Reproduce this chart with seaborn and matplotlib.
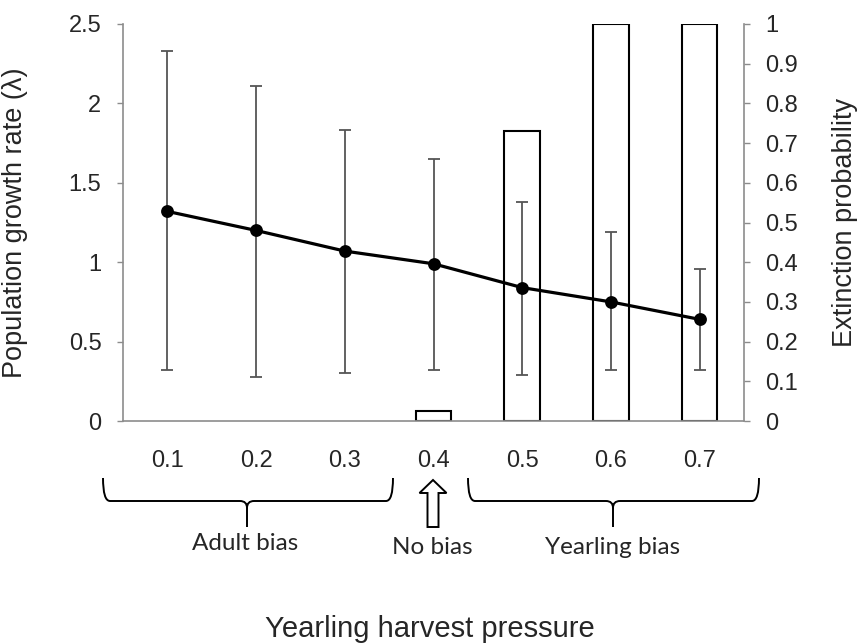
import matplotlib
matplotlib.use("Agg")
import matplotlib.pyplot as plt
import seaborn as sns
import numpy as np
import pandas as pd
from matplotlib.path import Path
from matplotlib.patches import PathPatch, Polygon

# ---------------- data ----------------
categories = ["0.1", "0.2", "0.3", "0.4", "0.5", "0.6", "0.7"]
growth_rate = [1.32, 1.20, 1.07, 0.99, 0.84, 0.75, 0.64]
growth_upper = [2.33, 2.11, 1.83, 1.65, 1.38, 1.19, 0.955]
growth_lower = [0.32, 0.28, 0.30, 0.32, 0.29, 0.32, 0.32]
extinction = [0.0, 0.0, 0.0, 0.026, 0.73, 1.0, 1.0]

left_ticks = [0, 0.5, 1, 1.5, 2, 2.5]
left_labels = ["0", "0.5", "1", "1.5", "2", "2.5"]
right_ticks = [0, 0.1, 0.2, 0.3, 0.4, 0.5, 0.6, 0.7, 0.8, 0.9, 1.0]
right_labels = ["0", "0.1", "0.2", "0.3", "0.4", "0.5", "0.6", "0.7", "0.8", "0.9", "1"]
group_labels = ["Adult bias", "No bias", "Yearling bias"]
left_label = "Population growth rate (λ)"
right_label = "Extinction probability"
x_label = "Yearling harvest pressure"

# ---------------- style ----------------
sns.set_style("white")
plt.rcParams["font.family"] = ["Liberation Sans", "DejaVu Sans"]

W, H = 858, 643
fig = plt.figure(figsize=(W / 100, H / 100), dpi=100)

def px(x, y):
    return (x / W, 1 - y / H)

x0, x1, ytop, ybot = 123, 744, 24, 421
ax = fig.add_axes([x0 / W, (H - ybot) / H, (x1 - x0) / W, (ybot - ytop) / H])
ax2 = ax.twinx()

grey = "#8c8c8c"

df = pd.DataFrame({"cat": categories, "lam": growth_rate, "ext": extinction})

# bars (right axis)
sns.barplot(data=df, x="cat", y="ext", ax=ax2, width=0.4, color="white",
            edgecolor="black", linewidth=1.5, saturation=1, errorbar=None)
for p in ax2.patches:
    if p.get_height() == 0:
        p.set_visible(False)

# error bars + line (left axis)
pos = np.arange(len(categories))
lam = np.array(growth_rate)
ax.errorbar(pos, lam, yerr=[lam - np.array(growth_lower), np.array(growth_upper) - lam],
            fmt="none", ecolor="#555555", elinewidth=1.3, capsize=4.5, capthick=1.3, zorder=1)
sns.pointplot(data=df, x="cat", y="lam", ax=ax, color="black", markers="o",
              markersize=7.5, linewidth=2.3, errorbar=None, zorder=3)

ax.set_zorder(ax2.get_zorder() + 1)
ax.patch.set_visible(False)

ax.set_xlim(-0.5, len(categories) - 0.5)
ax.set_ylim(0, 2.5)
ax2.set_ylim(0, 1)

ax.set_yticks(left_ticks)
ax.set_yticklabels(left_labels)
ax2.set_yticks(right_ticks)
ax2.set_yticklabels(right_labels)

tick_fs = 17
ax.set_xticks(pos)
ax.set_xticklabels(categories)
ax.set_xticks(np.arange(-0.5, len(categories), 1), minor=True)
ax.tick_params(axis="x", which="major", length=0, pad=21, labelsize=tick_fs)
ax.tick_params(axis="x", which="minor", length=5, width=1, color=grey, direction="out")
ax.tick_params(axis="y", length=4.5, width=1, color=grey, direction="out", pad=11, labelsize=tick_fs)
ax2.tick_params(axis="y", length=4.5, width=1, color=grey, direction="out", pad=11, labelsize=tick_fs)
ax.tick_params(left=True, bottom=True)
ax2.tick_params(right=True)
ax.set_xlabel("")
ax2.set_xlabel("")
ax.set_ylabel(left_label, fontsize=19.5)
ax2.set_ylabel(right_label, fontsize=19.5)
ax.yaxis.set_label_coords((28 - x0) / (x1 - x0), 0.5)
ax2.yaxis.set_label_coords((832 - x0) / (x1 - x0), 0.5)

for a in (ax, ax2):
    for s in a.spines.values():
        s.set_visible(False)
ax.spines["left"].set_visible(True)
ax.spines["bottom"].set_visible(True)
ax2.spines["right"].set_visible(True)
for s in (ax.spines["left"], ax.spines["bottom"], ax2.spines["right"]):
    s.set_color(grey)
    s.set_linewidth(1.2)

# ---------------- braces, arrow, group labels ----------------
def brace(xl, xr, xm, ytop_, yh, ybottom, r=7):
    verts = [
        px(xl, ytop_), px(xl, yh), px(xl + r, yh),
        px(xm - r, yh), px(xm, yh), px(xm, yh + r),
        px(xm, ybottom), px(xm, yh + r),
        px(xm, yh), px(xm + r, yh),
        px(xr - r, yh), px(xr, yh), px(xr, ytop_),
    ]
    codes = [Path.MOVETO, Path.CURVE3, Path.CURVE3,
             Path.LINETO, Path.CURVE3, Path.CURVE3,
             Path.LINETO, Path.MOVETO,
             Path.CURVE3, Path.CURVE3,
             Path.LINETO, Path.CURVE3, Path.CURVE3]
    fig.patches.append(PathPatch(Path(verts, codes), transform=fig.transFigure,
                                 fill=False, edgecolor="black", linewidth=1.4))

brace(103, 393, 247, 478, 501, 527)
brace(468, 759, 613, 478, 501, 527)

ac = 433
arrow_pts = [px(ac, 480), px(ac - 13.5, 493), px(ac - 5.5, 493), px(ac - 5.5, 527),
             px(ac + 5.5, 527), px(ac + 5.5, 493), px(ac + 13.5, 493)]
fig.patches.append(Polygon(arrow_pts, closed=True, transform=fig.transFigure,
                           facecolor="white", edgecolor="black", linewidth=1.4))

ann_font = ["Lato", "DejaVu Sans"]
ann_fs = 17.5
fig.text(*px(245, 543), group_labels[0], ha="center", va="center", fontsize=ann_fs, family=ann_font)
fig.text(*px(432, 548), group_labels[1], ha="center", va="center", fontsize=ann_fs, family=ann_font)
fig.text(*px(613, 548), group_labels[2], ha="center", va="center", fontsize=ann_fs, family=ann_font)

fig.text(*px(430, 637), x_label, ha="center", va="baseline", fontsize=21)

fig.savefig("out.png", dpi=100)
